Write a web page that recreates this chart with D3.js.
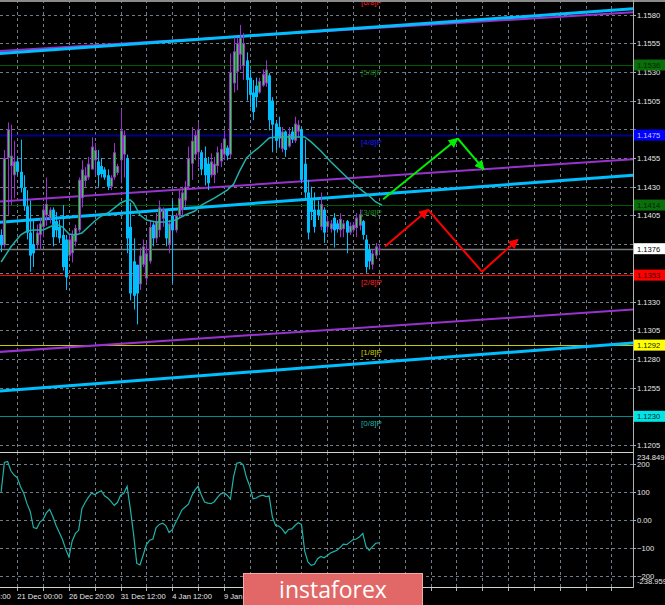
<!DOCTYPE html>
<html><head><meta charset="utf-8">
<script src="https://cdn.jsdelivr.net/npm/d3@7/dist/d3.min.js"></script>
<style>html,body{margin:0;padding:0;background:#000;overflow:hidden}svg{display:block}</style>
</head><body><svg id="chart" width="665" height="605"></svg>
<script>
// ---------- DATA ----------
const firstBar = -5; // bar index of first candle (index 0 = 21 Dec 00:00)
const open = [
 1.1388,1.1379,1.1455,1.1448,1.1440,1.1452,1.1443,1.1429,1.1413,1.1390,
 1.1380,1.1380,1.1388,1.1395,1.1405,1.1402,1.1410,1.1400,1.1395,1.1388,
 1.1384,1.1370,1.1372,1.1382,1.1392,1.1420,1.1435,1.1438,1.1445,1.1453,
 1.1452,1.1448,1.1445,1.1440,1.1430,1.1438,1.1442,1.1453,1.1458,1.1455,
 1.1395,1.1365,1.1362,1.1345,1.1362,1.1350,1.1365,1.1397,1.1385,1.1392,
 1.1402,1.1410,1.1380,1.1405,1.1392,1.1405,1.1410,1.1418,1.1430,1.1450,
 1.1458,1.1460,1.1460,1.1455,1.1450,1.1440,1.1440,1.1448,1.1452,1.1458,
 1.1464,1.1458,1.1520,1.1530,1.1545,1.1535,1.1540,1.1525,1.1512,1.1518,
 1.1512,1.1518,1.1520,1.1527,1.1505,1.1485,1.1482,1.1463,1.1478,1.1465,
 1.1478,1.1470,1.1478,1.1480,1.1450,1.1425,1.1420,1.1410,1.1410,1.1395,
 1.1410,1.1395,1.1393,1.1403,1.1398,1.1392,1.1393,1.1400,1.1390,1.1392,
 1.1394,1.1396,1.1400,1.1384,1.1375,1.1362,1.1370,1.1375];
const high = [
 1.1393,1.1462,1.1486,1.1484,1.1470,1.1456,1.1471,1.1440,1.1427,1.1418,
 1.1401,1.1397,1.1403,1.1414,1.1438,1.1412,1.1412,1.1408,1.1401,1.1414,
 1.1388,1.1388,1.1392,1.1397,1.1438,1.1453,1.1447,1.1456,1.1473,1.1468,
 1.1462,1.1455,1.1447,1.1445,1.1440,1.1468,1.1450,1.1497,1.1479,1.1458,
 1.1416,1.1385,1.1362,1.1377,1.1384,1.1381,1.1401,1.1399,1.1407,1.1418,
 1.1412,1.1410,1.1401,1.1418,1.1407,1.1427,1.1430,1.1435,1.1465,1.1482,
 1.1479,1.1486,1.1462,1.1465,1.1456,1.1459,1.1456,1.1465,1.1468,1.1479,
 1.1466,1.1546,1.1560,1.1560,1.1571,1.1564,1.1547,1.1532,1.1523,1.1525,
 1.1525,1.1532,1.1540,1.1529,1.1508,1.1488,1.1491,1.1482,1.1479,1.1482,
 1.1482,1.1491,1.1488,1.1482,1.1471,1.1436,1.1430,1.1425,1.1418,1.1425,
 1.1412,1.1403,1.1401,1.1407,1.1401,1.1407,1.1401,1.1401,1.1399,1.1399,
 1.1407,1.1410,1.1401,1.1388,1.1380,1.1375,1.1381,1.1380];
const low = [
 1.1373,1.1377,1.1405,1.1414,1.1420,1.1440,1.1425,1.1409,1.1384,1.1356,
 1.1360,1.1376,1.1375,1.1386,1.1396,1.1398,1.1378,1.1386,1.1381,1.1357,
 1.1340,1.1368,1.1364,1.1378,1.1390,1.1412,1.1430,1.1436,1.1445,1.1440,
 1.1430,1.1438,1.1436,1.1427,1.1427,1.1436,1.1440,1.1433,1.1438,1.1372,
 1.1331,1.1323,1.1310,1.1340,1.1360,1.1346,1.1363,1.1378,1.1381,1.1386,
 1.1395,1.1378,1.1372,1.1346,1.1390,1.1403,1.1404,1.1412,1.1427,1.1436,
 1.1453,1.1447,1.1440,1.1431,1.1427,1.1438,1.1433,1.1442,1.1447,1.1453,
 1.1453,1.1455,1.1512,1.1514,1.1532,1.1523,1.1505,1.1499,1.1488,1.1499,
 1.1511,1.1517,1.1517,1.1479,1.1460,1.1462,1.1464,1.1460,1.1456,1.1464,
 1.1468,1.1468,1.1473,1.1433,1.1418,1.1384,1.1401,1.1390,1.1401,1.1392,
 1.1381,1.1390,1.1390,1.1377,1.1390,1.1386,1.1386,1.1372,1.1388,1.1390,
 1.1386,1.1392,1.1384,1.1355,1.1358,1.1358,1.1367,1.1372];
const close = [
 1.1379,1.1455,1.1480,1.1457,1.1452,1.1443,1.1429,1.1413,1.1390,1.1370,
 1.1372,1.1390,1.1398,1.1410,1.1415,1.1410,1.1386,1.1392,1.1385,1.1360,
 1.1351,1.1384,1.1388,1.1394,1.1436,1.1445,1.1440,1.1450,1.1465,1.1462,
 1.1440,1.1441,1.1438,1.1430,1.1438,1.1460,1.1448,1.1479,1.1475,1.1385,
 1.1337,1.1335,1.1337,1.1370,1.1378,1.1372,1.1395,1.1385,1.1400,1.1412,
 1.1410,1.1385,1.1398,1.1392,1.1405,1.1420,1.1425,1.1430,1.1455,1.1470,
 1.1475,1.1480,1.1445,1.1440,1.1433,1.1452,1.1450,1.1460,1.1463,1.1472,
 1.1457,1.1530,1.1548,1.1555,1.1560,1.1555,1.1523,1.1510,1.1495,1.1508,
 1.1522,1.1528,1.1532,1.1488,1.1484,1.1470,1.1472,1.1478,1.1462,1.1476,
 1.1471,1.1485,1.1484,1.1436,1.1425,1.1390,1.1408,1.1395,1.1405,1.1415,
 1.1390,1.1400,1.1398,1.1392,1.1393,1.1402,1.1398,1.1390,1.1396,1.1397,
 1.1403,1.1406,1.1388,1.1360,1.1365,1.1372,1.1378,1.1376];
const cci = [
 100,205,208,175,160,150,118,95,58,30,
 -27,-31,-8,2,25,38,12,-20,-45,-70,
 -105,-132,-75,-48,-37,40,62,80,95,90,
 98,104,86,78,66,52,62,88,95,120,
 40,-50,-155,-160,-125,-88,-72,-68,-27,-16,
 -12,-20,-45,-35,-10,12,36,46,56,85,
 106,120,89,64,60,58,65,80,93,97,
 88,74,155,202,205,195,150,120,75,78,
 85,88,83,85,10,-20,-22,-32,-48,-34,
 -32,-20,-10,-16,-110,-150,-162,-158,-138,-130,
 -135,-127,-118,-113,-108,-98,-86,-88,-79,-70,
 -68,-60,-48,-95,-108,-95,-83,-82];
// moving average, read at selected bars
const maBars = [-5,-2,1,3,5,8,10,12,14,16,18,20,22,24,26,28,30,32,34,35,36,38,40,43,46,49,52,55,57,61,65,67,69,71,73,75,78,80,87,89,91,94,97,101,104,107,109,111,113];
const maValues = [1.13644,1.13775,1.13879,1.13914,1.13923,1.13923,1.13949,1.13975,1.13949,1.13888,1.13879,1.13897,1.13949,1.14001,1.14045,1.14071,1.14114,1.14158,1.14184,1.14184,1.14158,1.14053,1.14010,1.13992,1.13992,1.14010,1.14053,1.14088,1.14140,1.14201,1.14271,1.14323,1.14445,1.14550,1.14602,1.14646,1.14724,1.14733,1.14733,1.14733,1.14690,1.14611,1.14520,1.14410,1.14330,1.14262,1.14220,1.14167,1.14140];
const priceTicks = [1.1580,1.1555,1.1530,1.1505,1.1480,1.1455,1.1430,1.1405,1.1380,1.1355,1.1330,1.1305,1.1280,1.1255,1.1230,1.1205];
const cciTicks = [200,100,0,-100,-200];
const cciMax = 234.8491, cciMin = -238.959;
const timeLabels = ["18 Dec 08:00","21 Dec 00:00","26 Dec 20:00","31 Dec 12:00","4 Jan 12:00","9 Jan 04:00"];
const timeLabelBars = [-16,0,16,32,48,64];
const murrayNames = ["[0/8]P","[1/8]P","[2/8]P","[3/8]P","[4/8]P","[5/8]P","[6/8]P"];
const murrayLevels = [1.1230,1.1292,1.1353,1.1414,1.1475,1.1536,1.1597];
const bidPrice = 1.1376;
// channel lines: prices at channelBars[0] and channelBars[1]
const channelBars = [-6, 191];
const cyanChannel = [[1.1546,1.1585],[1.1399,1.1440],[1.1252,1.1294]];
const purpleChannel = [[1.1548,1.1582],[1.1417,1.1454],[1.1286,1.1323]];
// forecast arrows
const greenArrowBars = [113.3,136.4,144.5];
const greenArrowPrices = [1.1419,1.1472,1.1445];
const redArrowBars = [113.9,127.2,143.9,155];
const redArrowPrices = [1.1378,1.1410,1.1356,1.1384];

// ---------- STYLE ----------
const W = 665, H = 605, RIGHT = 633, MAIN_BOTTOM = 452, CCI_TOP = 454, CCI_BOTTOM = 587;
const PURPLE = "#9932cc", BLUE = "#00bfff", LIME = "#00ff00";
const murrayLine = ["#008b8b","#c8c800","#ff0000","#005a00","#00008b","#005a00","#ff0000"];
const murrayText = ["#20b2aa","#c8c800","#ff2020","#1a8a1a","#1a1aff","#1a7a1a","#ff2020"];
const boxFill = ["#00e5e5","#ffff00","#ff0000","#0a6e0a","#0000ff","#0a6e0a"];
const boxText = ["#002020","#202000","#300000","#002800","#c8c8ff","#002800"];
const FONT = "Liberation Sans, Arial, sans-serif";

const svg = d3.select("#chart");
svg.append("rect").attr("width",W).attr("height",H).attr("fill","#000");

const x = d3.scaleLinear().domain([0,112]).range([17.3, 17.3 + 3.229*112]);
const y = d3.scaleLinear().domain([1.1205,1.1580]).range([445,14.5]);
const yc = d3.scaleLinear().domain([cciMin,cciMax]).range([CCI_BOTTOM, CCI_TOP]);

const defs = svg.append("defs");
defs.append("clipPath").attr("id","clipMain").append("rect").attr("x",0).attr("y",0).attr("width",RIGHT).attr("height",MAIN_BOTTOM);
defs.append("clipPath").attr("id","clipCci").append("rect").attr("x",0).attr("y",MAIN_BOTTOM+1).attr("width",RIGHT).attr("height",CCI_BOTTOM-MAIN_BOTTOM-1);
["g","r"].forEach(k=>{
  defs.append("marker").attr("id","arr"+k).attr("viewBox","0 0 10 10").attr("refX",9).attr("refY",5)
    .attr("markerWidth",5).attr("markerHeight",5).attr("orient","auto").attr("markerUnits","strokeWidth")
    .append("path").attr("d","M0,0L10,5L0,10z").attr("fill", k==="g"?"#00ee00":"#ff0000");
});

const main = svg.append("g").attr("clip-path","url(#clipMain)");
const sub = svg.append("g").attr("clip-path","url(#clipCci)");

const gridBars = d3.range(-16, 200, 8).filter(b => x(b) > 0 && x(b) < RIGHT);
const gridStyle = s => s.attr("stroke","#6f7c8a").attr("stroke-width",1).attr("stroke-dasharray","3,3");

main.selectAll(".vg").data(gridBars).join("line").attr("x1",d=>Math.round(x(d))+0.5).attr("x2",d=>Math.round(x(d))+0.5)
  .attr("y1",0).attr("y2",MAIN_BOTTOM).call(gridStyle);
main.selectAll(".hg").data(priceTicks).join("line").attr("x1",0).attr("x2",RIGHT)
  .attr("y1",d=>Math.round(y(d))+0.5).attr("y2",d=>Math.round(y(d))+0.5).call(gridStyle);
sub.selectAll(".vg").data(gridBars).join("line").attr("x1",d=>Math.round(x(d))+0.5).attr("x2",d=>Math.round(x(d))+0.5)
  .attr("y1",MAIN_BOTTOM).attr("y2",CCI_BOTTOM).call(gridStyle);
sub.selectAll(".hg").data(cciTicks).join("line").attr("x1",0).attr("x2",RIGHT)
  .attr("y1",d=>Math.round(yc(d))+0.5).attr("y2",d=>Math.round(yc(d))+0.5).call(gridStyle);

// murray & bid lines
main.selectAll(".ml").data(murrayLevels).join("line").attr("x1",0).attr("x2",RIGHT)
  .attr("y1",d=>Math.round(y(d))+0.5).attr("y2",d=>Math.round(y(d))+0.5)
  .attr("stroke",(d,i)=>murrayLine[i]).attr("stroke-width",(d,i)=>i===4?2:1);
main.append("line").attr("x1",0).attr("x2",RIGHT).attr("y1",Math.round(y(bidPrice))+0.5).attr("y2",Math.round(y(bidPrice))+0.5)
  .attr("stroke","#7a7a7a").attr("stroke-width",1.5);

// channel lines
purpleChannel.forEach(p=>{
  main.append("line").attr("x1",x(channelBars[0])).attr("y1",y(p[0])).attr("x2",x(channelBars[1])).attr("y2",y(p[1]))
    .attr("stroke",PURPLE).attr("stroke-width",2);
});
cyanChannel.forEach(p=>{
  main.append("line").attr("x1",x(channelBars[0])).attr("y1",y(p[0])).attr("x2",x(channelBars[1])).attr("y2",y(p[1]))
    .attr("stroke",BLUE).attr("stroke-width",3);
});

// candles
const bars = open.map((o,i)=>({j:i+firstBar,o,h:high[i],l:low[i],c:close[i]}));
const cg = main.append("g");
bars.forEach(b=>{
  const up = b.c >= b.o;
  const cx = Math.round(x(b.j)) + 0.5;
  cg.append("line").attr("x1",cx).attr("x2",cx).attr("y1",y(b.h)).attr("y2",y(b.l))
    .attr("stroke", up?PURPLE:BLUE).attr("stroke-width",1);
  const t = y(Math.max(b.o,b.c)), bt = y(Math.min(b.o,b.c));
  const hgt = Math.max(1, bt-t);
  cg.append("rect").attr("x",cx-1.5).attr("y",t).attr("width",3).attr("height",hgt).attr("fill", up?PURPLE:BLUE);
  if (up && hgt > 3) cg.append("rect").attr("x",cx-0.5).attr("y",t+1).attr("width",1).attr("height",hgt-2).attr("fill",LIME);
});

// moving average
main.append("path").datum(maBars.map((b,i)=>[b,maValues[i]]))
  .attr("d", d3.line().x(d=>x(d[0])).y(d=>y(d[1])))
  .attr("fill","none").attr("stroke","#20b2aa").attr("stroke-width",1.5);

// arrows
function arrowPath(barsA, pricesA, color, mk, headsAt){
  for (let i=0;i<barsA.length-1;i++){
    const ln = main.append("line").attr("x1",x(barsA[i])).attr("y1",y(pricesA[i]))
      .attr("x2",x(barsA[i+1])).attr("y2",y(pricesA[i+1])).attr("stroke",color).attr("stroke-width",2);
    if (headsAt.includes(i)) ln.attr("marker-end","url(#"+mk+")");
  }
}
arrowPath(greenArrowBars, greenArrowPrices, "#00ee00", "arrg", [0,1]);
arrowPath(redArrowBars, redArrowPrices, "#ff0000", "arrr", [0,2]);

// murray labels
main.selectAll(".mt").data(murrayLevels).join("text").attr("x",361).attr("y",d=>y(d)+10)
  .attr("fill",(d,i)=>murrayText[i]).attr("font-family",FONT).attr("font-size","8px")
  .text((d,i)=>murrayNames[i]);

// CCI line
sub.append("path").datum(cci.map((v,i)=>[i+firstBar,v]))
  .attr("d", d3.line().x(d=>x(d[0])).y(d=>yc(d[1])))
  .attr("fill","none").attr("stroke","#20b2aa").attr("stroke-width",1.2);

// frame lines
svg.append("line").attr("x1",0).attr("x2",W).attr("y1",1).attr("y2",1).attr("stroke","#8a8a8a").attr("stroke-width",2);
svg.append("line").attr("x1",0).attr("x2",RIGHT).attr("y1",MAIN_BOTTOM+0.5).attr("y2",MAIN_BOTTOM+0.5).attr("stroke","#d0d0d0");
svg.append("line").attr("x1",0).attr("x2",RIGHT).attr("y1",CCI_BOTTOM+0.5).attr("y2",CCI_BOTTOM+0.5).attr("stroke","#d0d0d0");
svg.append("line").attr("x1",RIGHT+0.5).attr("x2",RIGHT+0.5).attr("y1",0).attr("y2",CCI_BOTTOM+1).attr("stroke","#b0b0b0");

// highlighted price boxes data
const boxes = murrayLevels.slice(0,6).map((v,i)=>({v, fill:boxFill[i], tc:boxText[i]}));
boxes.push({v:bidPrice, fill:"#ffffff", tc:"#000000"});

// price axis labels (those hidden behind a box are left out)
const visibleTicks = priceTicks.filter(t => boxes.every(b => Math.abs(y(t)-y(b.v)) > 6));
const ax = svg.append("g").attr("font-family",FONT).attr("font-size","7.6px").attr("fill","#e6e6e6");
ax.selectAll(".pt").data(priceTicks).join("line").attr("x1",RIGHT).attr("x2",RIGHT+3)
  .attr("y1",d=>Math.round(y(d))+0.5).attr("y2",d=>Math.round(y(d))+0.5).attr("stroke","#b0b0b0");
ax.selectAll(".pl").data(visibleTicks).join("text").attr("x",637).attr("y",d=>y(d)+3).text(d=>d.toFixed(4));

boxes.forEach(b=>{
  const cy = y(b.v);
  svg.append("rect").attr("x",634).attr("y",cy-5.5).attr("width",31).attr("height",11).attr("fill",b.fill);
  svg.append("text").attr("x",637).attr("y",cy+3).attr("font-family",FONT).attr("font-size","7.6px")
    .attr("fill",b.tc).text(b.v.toFixed(4));
});

// CCI axis labels
const cl = svg.append("g").attr("font-family",FONT).attr("font-size","7.6px").attr("fill","#e6e6e6");
cl.selectAll(".ct").data(cciTicks).join("line").attr("x1",RIGHT).attr("x2",RIGHT+3)
  .attr("y1",d=>Math.round(yc(d))+0.5).attr("y2",d=>Math.round(yc(d))+0.5).attr("stroke","#b0b0b0");
cl.selectAll(".cl").data(cciTicks).join("text").attr("x",637).attr("y",d=>yc(d)+3).text(d=>d===0?"0.00":d3.format("d")(d));
cl.append("text").attr("x",637).attr("y",yc(cciMax)+6).text(String(cciMax));
cl.append("text").attr("x",637).attr("y",yc(cciMin)-3).text(String(cciMin));

// time axis
const tg = svg.append("g").attr("font-family",FONT).attr("font-size","7.6px").attr("fill","#e6e6e6");
tg.selectAll(".tt").data(gridBars).join("line").attr("x1",d=>Math.round(x(d))+0.5).attr("x2",d=>Math.round(x(d))+0.5)
  .attr("y1",CCI_BOTTOM+1).attr("y2",CCI_BOTTOM+4).attr("stroke","#b0b0b0");
tg.selectAll(".tl").data(timeLabels).join("text").attr("x",(d,i)=>x(timeLabelBars[i])).attr("y",599).text(d=>d);

// logo
svg.append("rect").attr("x",243.5).attr("y",573.5).attr("width",179).attr("height",40)
  .attr("fill","#e26868").attr("stroke","#f1a8a8").attr("stroke-width",1);
svg.append("text").attr("x",333).attr("y",598).attr("text-anchor","middle").attr("font-family","Open Sans, sans-serif")
  .attr("font-size","23px").attr("fill","#ffffff").text("instaforex");
</script></body></html>
